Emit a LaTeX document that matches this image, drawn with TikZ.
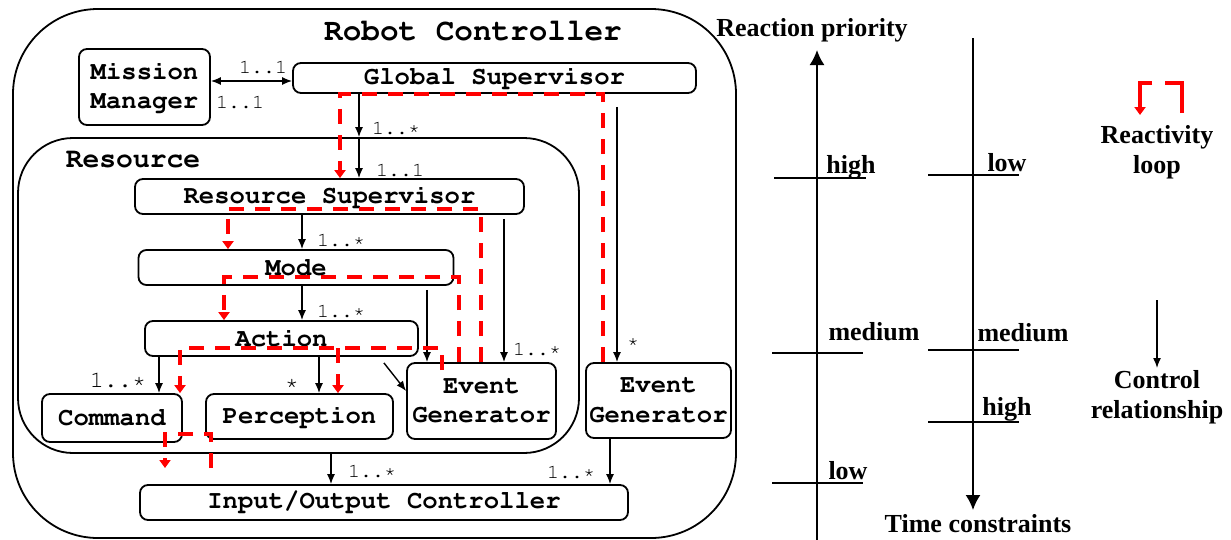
\documentclass[tikz,border=0pt]{standalone}
\usepackage[T1]{fontenc}
\usepackage{fontspec}
\setmainfont{Liberation Serif}
\setmonofont{Liberation Mono}
\newcommand\cour{\fontencoding{T1}\fontfamily{pcr}\selectfont}
\usetikzlibrary{arrows.meta}

\begin{document}
\begin{tikzpicture}[x=1pt, y=-1pt, >={Latex[length=10pt,width=8pt]}, line width=1.4pt]
      \tikzstyle{frame}=[draw, line width=1.8pt, inner sep=0pt]
      \tikzstyle{box}=[frame, rounded corners=8pt, align=center, font=\fontsize{25.6}{29.5}\cour\bfseries]
      \tikzstyle{mult}=[inner sep=0pt, font=\fontsize{20}{22}\cour]
      \tikzstyle{bigmult}=[inner sep=0pt, font=\fontsize{23.5}{26}\cour]
      \tikzstyle{legend}=[inner sep=0pt, align=center, font=\fontsize{26}{30.5}\selectfont\bfseries]
      \tikzstyle{ctrl}=[->, line width=1.4pt]
      \tikzstyle{reactive}=[draw=red, line width=3.6pt, dash pattern=on 15pt off 11pt, -{Triangle[length=8pt,width=11pt]}]
      \tikzstyle{axis}=[line width=1.8pt, -{Latex[length=15pt,width=15pt]}]
      \useasboundingbox (0,0) rectangle (1231,539);

      \node[frame, rounded corners=85pt, minimum width=723pt, minimum height=529pt] (rc) at (374.5,273.5) {};
      \node[frame, rounded corners=55pt, minimum width=561pt, minimum height=315pt] (res) at (298.5,295.5) {};
      \node[inner sep=0pt, font=\fontsize{31}{34}\cour\bfseries] (rctitle) at (473,31) {Robot Controller};
      \node[inner sep=0pt, font=\fontsize{28}{30}\cour\bfseries] (restitle) at (133,160) {Resource};

      \node[box, minimum width=131pt, minimum height=76pt] (mm) at (144.5,87) {Mission\\Manager};
      \node[box, minimum width=403pt, minimum height=30pt] (gs) at (494.5,78) {Global Supervisor};
      \node[box, minimum width=389pt, minimum height=35pt] (rs) at (329.5,196.5) {Resource Supervisor};
      \node[box, minimum width=315pt, minimum height=35pt] (mode) at (296,267.5) {Mode};
      \node[box, minimum width=273pt, minimum height=35pt] (act) at (281.5,338.5) {Action};
      \node[box, minimum width=140pt, minimum height=48pt] (cmd) at (112,418) {Command};
      \node[box, minimum width=187pt, minimum height=45pt] (perc) at (299.5,416.5) {Perception};
      \node[box, minimum width=149pt, minimum height=76pt] (egi) at (481.5,401) {Event\\Generator};
      \node[box, minimum width=145pt, minimum height=75pt] (ego) at (658.5,400.5) {Event\\Generator};
      \node[box, minimum width=488pt, minimum height=35pt] (io) at (384,502.5) {Input/Output Controller};

      \draw[ctrl, <->] (mm.east |- 0,81) -- (gs.west |- 0,81);
      \draw[ctrl] (gs.south -| 359,0) -- (res.north -| 359,0);
      \draw[ctrl] (res.north -| 359,0) -- (rs.north -| 359,0);
      \draw[ctrl] (rs.south -| 302,0) -- (mode.north -| 302,0);
      \draw[ctrl] (mode.south -| 302,0) -- (act.north -| 302,0);
      \draw[ctrl] (act.south -| 159,0) -- (cmd.north -| 159,0);
      \draw[ctrl] (act.south -| 319,0) -- (perc.north -| 319,0);
      \draw[ctrl] ([shift={(-35,6)}]act.south east) -- (egi.west |- 0,391);
      \draw[ctrl, shorten <=4pt] (mode.south -| 427,0) -- (egi.north -| 427,0);
      \draw[ctrl, shorten <=4pt] (rs.south -| 504,0) -- (egi.north -| 504,0);
      \draw[ctrl, shorten <=13pt] (gs.south -| 617,0) -- (ego.north -| 617,0);
      \draw[ctrl] (res.south -| 331,0) -- (io.north -| 331,0);
      \draw[ctrl] (ego.south -| 610,0) -- (io.north -| 610,0);

      \node[mult] (m1) at (263,67) {1..1};
      \node[mult] (m2) at (240,102) {1..1};
      \node[mult] (m3) at (396,128) {1..*};
      \node[mult] (m4) at (400,170) {1..1};
      \node[mult] (m5) at (341,240) {1..*};
      \node[mult] (m6) at (341,311) {1..*};
      \node[mult] (m7) at (537,349) {1..*};
      \node[mult] (m8) at (633,343) {*};
      \node[bigmult] (m9) at (118,380) {1..*};
      \node[bigmult] (m10) at (292,384) {*};
      \node[mult] (m11) at (372,471) {1..*};
      \node[mult] (m12) at (571,472) {1..*};

      \draw[reactive] (ego.north -| 603,0) |- (340,94) -- (rs.north -| 340,0);
      \draw[reactive] (egi.north -| 481,0) |- (228,209) -- (mode.north -| 228,0);
      \draw[reactive] (egi.north -| 459,0) |- (224,277) -- (act.north -| 224,0);
      \draw[reactive, shorten <=-8pt] (egi.north -| 442,0) |- (180,348) -- (cmd.north -| 180,0);
      \draw[reactive] (338,348) -- (perc.north -| 338,0);
      \coordinate (lpstart) at (211,468);
      \coordinate (lpend) at (165,468);
      \draw[reactive] (lpstart) |- (165,434) -- (lpend);

      \coordinate (rpfoot) at (817,541);
      \coordinate (rphead) at (817,50);
      \draw[axis] (rpfoot) -- (rphead);
      \node[legend] (rp) at (812,30) {Reaction priority};
      \draw (774,178) -- (866,178);
      \draw (772,353) -- (863,353);
      \draw (772,483) -- (863,483);
      \node[legend] (rphigh) at (851,167) {high};
      \node[legend] (rpmed) at (874,332) {medium};
      \node[legend] (rplow) at (848,471) {low};

      \coordinate (tchead) at (973,38);
      \coordinate (tcfoot) at (973,510);
      \draw[axis] (tchead) -- (tcfoot);
      \node[legend] (tc) at (978,524) {Time constraints};
      \draw (928,175) -- (1019,175);
      \draw (928,350) -- (1019,350);
      \draw (928,422) -- (1019,422);
      \node[legend] (tclow) at (1007,163) {low};
      \node[legend] (tcmed) at (1023,333) {medium};
      \node[legend] (tchigh) at (1007,409) {high};

      \coordinate (rlstart) at (1182,113);
      \coordinate (rlend) at (1140,115);
      \draw[reactive, solid, -] (rlstart) |- (1165,83);
      \draw[reactive, solid] (1152,83) -| (rlend);
      \node[legend] (rl) at (1157,152) {Reactivity\\loop};
      \coordinate (crtop) at (1157,300);
      \coordinate (crbot) at (1157,368);
      \draw[ctrl] (crtop) -- (crbot);
      \node[legend] (cr) at (1157,397) {Control\\relationship};
\end{tikzpicture}
\end{document}
